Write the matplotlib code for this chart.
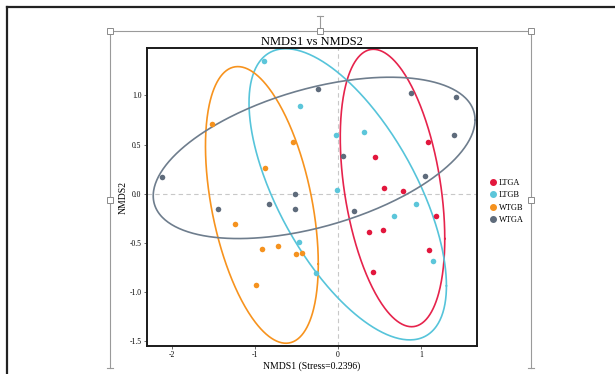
import numpy as np
import matplotlib
matplotlib.use("Agg")
import matplotlib.pyplot as plt
from matplotlib.lines import Line2D
from matplotlib.patches import Rectangle

plt.rcParams['font.family'] = ['Liberation Serif', 'DejaVu Serif']

# ---- data ----
groups = ["LTGA", "LTGB", "WTGB", "WTGA"]
colors = ["#E2173D", "#5CC6DA", "#F5921E", "#5E6B7B"]
ell_colors = ["#E6234C", "#56C4DA", "#F7931E", "#6E7D8D"]

ltga_x = [1.092, 0.454, 0.562, 0.787, 1.185, 0.373, 0.542, 1.096, 0.422]
ltga_y = [0.525, 0.369, 0.054, 0.031, -0.226, -0.385, -0.368, -0.568, -0.800]

ltgb_x = [-0.884, -0.454, -0.020, 0.313, -0.012, 0.948, 0.679, -0.466, 1.149, -0.265]
ltgb_y = [1.349, 0.892, 0.597, 0.624, 0.041, -0.105, -0.223, -0.490, -0.679, -0.810]

wtgb_x = [-1.518, -0.534, -0.876, -1.245, -0.908, -0.719, -0.498, -0.426, -0.988]
wtgb_y = [0.708, 0.529, 0.258, -0.311, -0.557, -0.527, -0.615, -0.598, -0.932]

wtga_x = [-0.237, 0.884, 1.426, 1.406, 0.064, -2.120, 1.052, -0.514, -0.831, -1.438, -0.510, 0.200]
wtga_y = [1.061, 1.024, 0.980, 0.593, 0.380, 0.173, 0.180, 0.000, -0.101, -0.159, -0.159, -0.179]

# ellipse parameters per group: centre x, centre y, half x-extent, half y-extent,
# y-offset of the rightmost point
ell_cx = [0.66, 0.12, -0.915, -0.285]
ell_cy = [0.058, -0.006, -0.114, 0.364]
ell_wx = [0.63, 1.19, 0.68, 1.94]
ell_hy = [1.41, 1.48, 1.406, 0.82]
ell_p = [-0.515, -0.93, -0.60, 0.386]

xticks = [-2, -1, 0, 1]
yticks = [-1.5, -1.0, -0.5, 0.0, 0.5, 1.0]

# ---- figure ----
W, H = 615, 374
fig = plt.figure(figsize=(W / 100, H / 100), dpi=100)

def fx(x):
    return x / W

def fy(y):
    return 1 - y / H

ax = fig.add_axes([fx(147), fy(345.7), fx(476.7) - fx(147), fy(48.3) - fy(345.7)])
ax.set_xlim(-2.30, 1.675)
ax.set_ylim(-1.545, 1.478)

ax.axhline(0, color="#c8c8c8", lw=0.8, ls=(0, (4, 3)), zorder=1)
ax.axvline(0, color="#c8c8c8", lw=0.8, ls=(0, (4, 3)), zorder=1)

t = np.linspace(0, 2 * np.pi, 400)
for i in range(4):
    q = np.sqrt(ell_hy[i] ** 2 - ell_p[i] ** 2)
    ex = ell_cx[i] + ell_wx[i] * np.cos(t)
    ey = ell_cy[i] + ell_p[i] * np.cos(t) + q * np.sin(t)
    ax.plot(ex, ey, color=ell_colors[i], lw=1.2, zorder=2)

xs = [ltga_x, ltgb_x, wtgb_x, wtga_x]
ys = [ltga_y, ltgb_y, wtgb_y, wtga_y]
for i in range(4):
    ax.scatter(xs[i], ys[i], s=16, color=colors[i], zorder=3, linewidths=0)

ax.set_xticks(xticks)
ax.set_xticklabels([str(v) for v in xticks])
ax.set_yticks(yticks)
ax.set_yticklabels([f"{v:.1f}" for v in yticks])
ax.tick_params(labelsize=5.5, length=2.5, width=0.6, pad=1.5, color="#555555")
for s in ax.spines.values():
    s.set_linewidth(1.4)
    s.set_color("#1a1a1a")

ax.set_title("NMDS1 vs NMDS2", fontsize=9, pad=2.5)
ax.set_xlabel("NMDS1 (Stress=0.2396)", fontsize=7, labelpad=1.5)
ax.set_ylabel("NMDS2", fontsize=7, labelpad=1)

# legend
leg_handles = [Line2D([], [], marker="o", ls="", color=c, markersize=4) for c in colors]
fig.legend(leg_handles, groups, loc="upper left",
           bbox_to_anchor=(fx(484), fy(175)), frameon=False, fontsize=6,
           handletextpad=0.1, labelspacing=0.5, borderpad=0, handlelength=1.2)

# screenshot decorations: outer frame
fig.add_artist(Line2D([fx(7), fx(615)], [fy(6.7), fy(6.7)], color="#222222", lw=1.6))
fig.add_artist(Line2D([fx(7), fx(7)], [fy(6.7), fy(374)], color="#222222", lw=1.6))

# selection box
sel = "#9a9a9a"
fig.add_artist(Line2D([fx(110), fx(531)], [fy(30.7), fy(30.7)], color=sel, lw=0.8))
fig.add_artist(Line2D([fx(110), fx(110)], [fy(30.7), fy(367.7)], color=sel, lw=0.8))
fig.add_artist(Line2D([fx(531), fx(531)], [fy(30.7), fy(367.7)], color=sel, lw=0.8))
fig.add_artist(Line2D([fx(320), fx(320)], [fy(16), fy(30.7)], color=sel, lw=0.8))
fig.add_artist(Line2D([fx(317), fx(323)], [fy(16), fy(16)], color=sel, lw=0.8))
for bx in (110, 531):
    fig.add_artist(Line2D([fx(bx - 3), fx(bx + 3)], [fy(367.7), fy(367.7)], color=sel, lw=0.8))
hs = 6
for (hx, hy) in [(110, 30.7), (320, 30.7), (531, 30.7), (110, 200), (531, 200)]:
    fig.add_artist(Rectangle((fx(hx - hs / 2), fy(hy + hs / 2)), hs / W, hs / H,
                             transform=fig.transFigure, facecolor="white",
                             edgecolor="#8a8a8a", lw=0.7, zorder=10))

fig.savefig("out.png", dpi=100)
